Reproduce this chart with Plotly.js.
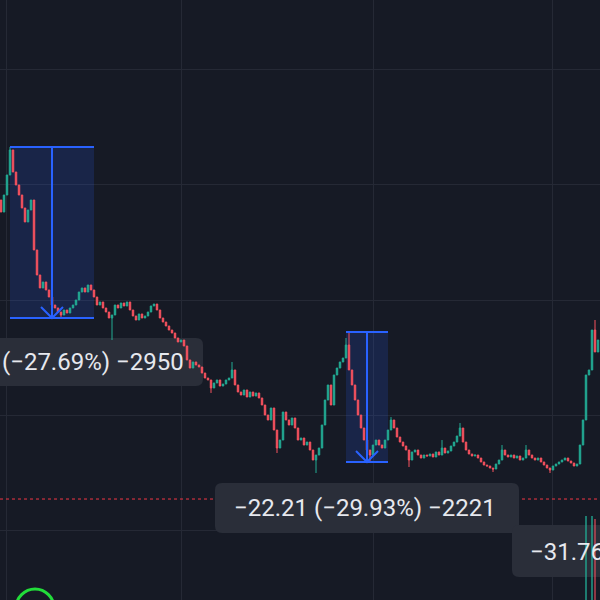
<!DOCTYPE html>
<html><head><meta charset="utf-8">
<script src="https://cdn.plot.ly/plotly-3.0.1.min.js"></script>
<style>html,body{margin:0;padding:0;background:#161a25;}#chart{width:600px;height:600px;}</style>
</head><body><div id="chart"></div>
<script>
// ---- data (prices) ----
const closes = [95.30,98.26,101.74,106.09,102.26,100.00,98.26,96.00,93.57,95.65,
97.39,88.70,84.35,82.09,83.13,81.74,80.52,79.13,78.61,77.91,
77.39,78.26,77.74,78.61,79.13,80.00,81.39,82.09,81.39,82.61,
81.74,80.52,79.13,79.65,78.61,77.91,76.87,77.39,79.13,78.61,
79.48,78.96,79.65,78.26,77.22,76.52,77.57,76.87,77.22,77.91,
78.96,79.30,78.26,76.87,76.17,75.48,74.78,74.26,73.39,72.70,
73.04,72.00,69.57,68.17,69.22,68.70,68.35,67.30,66.43,66.09,
64.70,65.57,66.09,65.04,65.39,66.09,66.43,67.83,65.22,64.00,
63.48,64.35,63.13,64.00,63.30,63.83,62.96,61.74,60.00,59.13,
61.22,57.39,54.26,55.65,60.52,59.13,58.26,59.48,57.74,55.65,
56.00,54.78,55.30,53.91,52.17,53.04,54.26,58.26,62.61,65.22,
61.74,66.96,68.17,69.22,69.91,72.17,67.83,65.22,62.61,60.00,
57.74,55.65,53.91,53.04,54.78,55.65,54.78,54.26,55.65,57.39,
59.13,57.74,56.17,55.30,54.61,53.91,52.17,53.57,53.91,53.04,
52.52,53.04,52.87,53.22,52.70,53.57,53.04,54.26,53.39,53.74,
54.61,55.30,56.35,57.74,55.30,53.91,53.22,52.87,53.04,52.52,
51.83,51.30,51.13,50.78,50.61,51.48,52.17,53.91,53.04,52.70,
53.04,52.52,52.87,52.17,52.52,53.91,53.04,52.52,52.17,52.52,
51.83,51.30,50.78,50.43,51.13,51.48,51.83,52.17,52.52,52.00,
51.65,51.13,51.48,54.78,59.13,66.96,67.83,74.78,70.96,73.04];
const firstOpen = 97.39;
// wick extremes that stick out of the bodies
const spikeIdx  = [3,     20,    37,    70,    77,    92,    105,   115,   116,   123,   130,   136,   147,   153,   164,   167,   175,   183,   198];
const spikeHigh = [106.61,null,  null,  null,  69.22, null,  null,  73.39, 74.43, null,  59.65, null,  55.65, 58.61, null,  54.78, 54.78, null,  76.52];
const spikeLow  = [null,  76.87, 73.04, 63.83, null,  53.39, 49.91, null,  null,  51.83, null,  50.96, null,  null,  50.09, null,  null,  49.91, null];
// volume spikes at the right edge
const volIdx = [195, 197, 198];
const volume = [14, 14, 13.5];
const volUp  = [true, true, false];
const lastPrice = 45.39;
const measureFrom = [3, 115];
const measureTo   = [31, 129];
const labelTexts = ["\u221229.21 (\u221227.69%) \u22122950", "\u221222.21 (\u221229.93%) \u22122221", "\u221231.76 (\u221241.18%) \u22123176"];

// ---- derived OHLC ----
const n = closes.length;
const xs = closes.map((_, i) => i);
const opens = closes.map((c, i) => i === 0 ? firstOpen : closes[i - 1]);
const highs = closes.map((c, i) => Math.max(c, opens[i]));
const lows  = closes.map((c, i) => Math.min(c, opens[i]));
spikeIdx.forEach((k, j) => {
  if (spikeHigh[j] !== null) highs[k] = Math.max(highs[k], spikeHigh[j]);
  if (spikeLow[j] !== null) lows[k] = Math.min(lows[k], spikeLow[j]);
});

// ---- axes ----
const X0 = -1/3, X1 = 199 + 2/3;
const Y0 = 27.83, Y1 = 132.17;
const xPx = p => X0 + p / 600 * (X1 - X0);
const yPx = p => Y1 - p / 600 * (Y1 - Y0);
const pxX = (X1 - X0) / 600, pxY = (Y1 - Y0) / 600;

const UP = '#22ab94', DOWN = '#f7525f', BLUE = '#2962ff';

const traces = [{
  type: 'candlestick', x: xs, open: opens, high: highs, low: lows, close: closes,
  increasing: {line: {color: UP, width: 1}, fillcolor: UP},
  decreasing: {line: {color: DOWN, width: 1}, fillcolor: DOWN},
  whiskerwidth: 0, hoverinfo: 'skip', showlegend: false
}, {
  type: 'bar', x: volIdx, y: volume, yaxis: 'y2', width: 0.6,
  marker: {color: volUp.map(u => u ? 'rgba(34,171,148,0.75)' : 'rgba(247,82,95,0.6)')},
  hoverinfo: 'skip', showlegend: false
}];

const shapes = [];
// last price dotted line
shapes.push({type: 'line', layer: 'between', xref: 'x', yref: 'y', x0: X0, x1: X1, y0: lastPrice, y1: lastPrice,
  line: {color: '#f23645', width: 1, dash: 'dot'}});
// measure boxes
measureFrom.forEach((f, j) => {
  const t = measureTo[j];
  let top = -Infinity, bot = Infinity;
  for (let i = f; i <= t; i++) { top = Math.max(top, highs[i]); bot = Math.min(bot, lows[i]); }
  const cx = (f + t) / 2;
  shapes.push({type: 'rect', layer: 'between', xref: 'x', yref: 'y', x0: f, x1: t, y0: bot, y1: top,
    fillcolor: 'rgba(41,98,255,0.16)', line: {width: 0}});
  shapes.push({type: 'line', xref: 'x', yref: 'y', x0: f, x1: t, y0: top, y1: top, line: {color: BLUE, width: 2}});
  shapes.push({type: 'line', xref: 'x', yref: 'y', x0: f, x1: t, y0: bot, y1: bot, line: {color: BLUE, width: 2}});
  shapes.push({type: 'line', xref: 'x', yref: 'y', x0: cx, x1: cx, y0: top, y1: bot, line: {color: BLUE, width: 2}});
  const ax = 11 * pxX, ay = 11 * pxY;
  shapes.push({type: 'path', xref: 'x', yref: 'y',
    path: `M ${cx - ax} ${bot + ay} L ${cx} ${bot} L ${cx + ax} ${bot + ay}`,
    line: {color: BLUE, width: 2}});
});
// rounded label backgrounds (pixel boxes)
function rrect(l, t, r, b, rad) {
  const P = (px, py) => `${xPx(px)} ${yPx(py)}`;
  return `M ${P(l + rad, t)} L ${P(r - rad, t)} Q ${P(r, t)} ${P(r, t + rad)} L ${P(r, b - rad)} Q ${P(r, b)} ${P(r - rad, b)} ` +
         `L ${P(l + rad, b)} Q ${P(l, b)} ${P(l, b - rad)} L ${P(l, t + rad)} Q ${P(l, t)} ${P(l + rad, t)} Z`;
}
const labelBoxes = [[-110, 338, 203, 386], [215, 483, 519, 533], [512, 525, 640, 577]];
labelBoxes.forEach(bx => shapes.push({type: 'path', layer: 'between', xref: 'x', yref: 'y',
  path: rrect(bx[0], bx[1], bx[2], bx[3], 7), fillcolor: '#2a2e39', line: {width: 0}}));
// green circle at bottom-left
shapes.push({type: 'circle', xref: 'x', yref: 'y', x0: xPx(16), x1: xPx(54), y0: yPx(627), y1: yPx(589),
  line: {color: '#22dd3a', width: 3}});

const font = {family: 'Roboto, "Open Sans", sans-serif', size: 24, color: '#e6e8ee'};
const annotations = [
  {text: labelTexts[0], xref: 'paper', yref: 'paper', x: 186 / 600, y: 1 - 362 / 600, xanchor: 'right', yanchor: 'middle', showarrow: false, font},
  {text: labelTexts[1], xref: 'paper', yref: 'paper', x: 365 / 600, y: 1 - 508 / 600, xanchor: 'center', yanchor: 'middle', showarrow: false, font},
  {text: labelTexts[2], xref: 'paper', yref: 'paper', x: 528 / 600, y: 1 - 552 / 600, xanchor: 'left', yanchor: 'middle', showarrow: false, font}
];

const layout = {
  width: 600, height: 600, margin: {l: 0, r: 0, t: 0, b: 0},
  paper_bgcolor: '#161a25', plot_bgcolor: '#161a25', showlegend: false, hovermode: false,
  xaxis: {range: [X0, X1], showgrid: true, gridcolor: '#252935', gridwidth: 1, tickmode: 'array',
    tickvals: [1.67, 60.33, 124, 183.67], showticklabels: false, ticks: '', zeroline: false, showline: false,
    rangeslider: {visible: false}, fixedrange: true},
  yaxis: {range: [Y0, Y1], showgrid: true, gridcolor: '#252935', gridwidth: 1, tick0: 0, dtick: 20,
    showticklabels: false, ticks: '', zeroline: false, showline: false, fixedrange: true},
  yaxis2: {overlaying: 'y', range: [0, 100], visible: false, showgrid: false, fixedrange: true},
  shapes, annotations
};
Plotly.newPlot('chart', traces, layout, {staticPlot: true, displayModeBar: false});
</script></body></html>
